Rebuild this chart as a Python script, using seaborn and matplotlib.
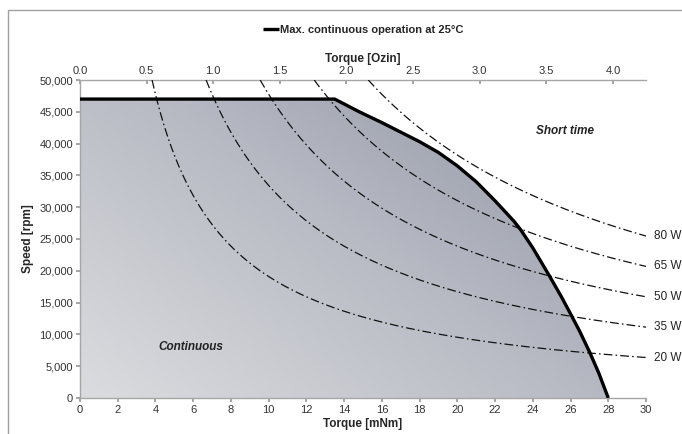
import numpy as np
import pandas as pd
import matplotlib
matplotlib.use("Agg")
import matplotlib.pyplot as plt
from matplotlib.colors import LinearSegmentedColormap
from matplotlib.patches import Rectangle
from matplotlib.ticker import FuncFormatter
import seaborn as sns

# ---- data ----
cont_torque = [0, 13.5, 14.8, 16.0, 17.0, 18.0, 19.0, 20.0, 21.0, 22.0, 23.0,
               23.37, 24.0, 24.9, 25.5, 26.06, 26.5, 27.03, 27.5, 28.0]
cont_speed = [47000, 47000, 45000, 43300, 41800, 40300, 38600, 36500, 34000, 31000, 27800,
              26400, 23600, 19100, 16000, 12900, 10400, 7100, 3900, 0]
power_watts = [20, 35, 50, 65, 80]
power_labels = ["20 W", "35 W", "50 W", "65 W", "80 W"]
x_ticks = list(range(0, 31, 2))
y_ticks = list(range(0, 50001, 5000))
ozin_ticks = [0.0, 0.5, 1.0, 1.5, 2.0, 2.5, 3.0, 3.5, 4.0]
MNM_PER_OZIN = 7.0616

sns.set_theme(style="white")
plt.rcParams["font.family"] = ["Liberation Sans Narrow", "Liberation Sans", "DejaVu Sans"]

fig = plt.figure(figsize=(6.82, 4.34), dpi=100)
ax = fig.add_axes([80/682, 1-398/434, (646-80)/682, (398-80)/434])

# frame around figure
fig.patches.append(Rectangle((8/682, -0.1), 1.2, 1.1 - 10/434, transform=fig.transFigure,
                             fill=False, edgecolor="#a0a0a0", lw=1.0))

# gradient fill under continuous curve
cmap = LinearSegmentedColormap.from_list("g", ["#dbdcdf", "#b7bac3", "#8a90a0"])
gx, gy = np.meshgrid(np.linspace(0, 1, 200), np.linspace(0, 1, 200))
grad = (gx * 0.55 + gy * 0.45)
im = ax.imshow(grad, extent=[0, 30, 0, 50000], origin="lower", aspect="auto",
               cmap=cmap, zorder=1)
poly = ax.fill_between(cont_torque, cont_speed, 0, color="none", lw=0)
im.set_clip_path(poly.get_paths()[0], transform=ax.transData)

# power hyperbolas (speed = P / torque)
rows = []
for p, lab in zip(power_watts, power_labels):
    t0 = p * 60000 / (2 * np.pi * 50000)
    for t in np.linspace(t0, 30, 200):
        rows.append({"torque": t, "speed": p * 60000 / (2 * np.pi * t), "power": lab})
pdf = pd.DataFrame(rows)
for lab in power_labels:
    sub = pdf[pdf.power == lab]
    sns.lineplot(data=sub, x="torque", y="speed", ax=ax, color="#111111", lw=0.9,
                 linestyle=(0, (7, 2.5, 1.3, 2.5)), zorder=3, legend=False)
    yend = sub.speed.iloc[-1]
    ax.text(30.4, yend, lab, fontsize=8.5, va="center", ha="left", color="#222222")

# continuous curve
cdf = pd.DataFrame({"torque": cont_torque, "speed": cont_speed})
sns.lineplot(data=cdf, x="torque", y="speed", ax=ax, color="black", lw=2.4, zorder=4,
             label="Max. continuous operation at 25\u00b0C", sort=False,
             solid_joinstyle="round", solid_capstyle="butt")

ax.set_xlim(0, 30)
ax.set_ylim(0, 50000)
ax.set_xticks(x_ticks)
ax.set_yticks(y_ticks)
ax.yaxis.set_major_formatter(FuncFormatter(lambda v, p: f"{int(v):,}"))
ax.tick_params(axis="both", labelsize=8, colors="#333333", length=3, direction="out",
               bottom=True, left=True, pad=2)
ax.tick_params(axis="both", color="#999999")
ax.set_xlabel("Torque [mNm]", fontsize=8.5, fontweight="bold", labelpad=2)
ax.set_ylabel("Speed [rpm]", fontsize=8.5, fontweight="bold", labelpad=4)
for s in ["left", "bottom", "top"]:
    ax.spines[s].set_color("#a6a6a6")
    ax.spines[s].set_linewidth(1.0)
ax.spines["right"].set_visible(False)
ax.grid(False)

sec = ax.secondary_xaxis("top", functions=(lambda t: t / MNM_PER_OZIN, lambda o: o * MNM_PER_OZIN))
sec.set_xticks(ozin_ticks)
sec.xaxis.set_major_formatter(FuncFormatter(lambda v, p: f"{v:.1f}"))
sec.tick_params(labelsize=8, colors="#333333", length=3, direction="in", pad=3)
sec.tick_params(color="#999999")
sec.spines["top"].set_visible(False)
sec.set_xlabel("Torque [Ozin]", fontsize=8.5, fontweight="bold", labelpad=3)

ax.text(25.7, 42000, "Short time", fontsize=8.5, fontweight="bold", style="italic",
        ha="center", va="center", color="#222222")
ax.text(5.9, 8000, "Continuous", fontsize=8.5, fontweight="bold", style="italic",
        ha="center", va="center", color="#222222")

leg = ax.legend(loc="center", bbox_to_anchor=(0.5, 1 + (80-30)/318), frameon=False,
                fontsize=8, handlelength=1.4, handletextpad=0.1, borderaxespad=0)
for t in leg.get_texts():
    t.set_fontweight("bold")

fig.savefig("out.png", dpi=100)
